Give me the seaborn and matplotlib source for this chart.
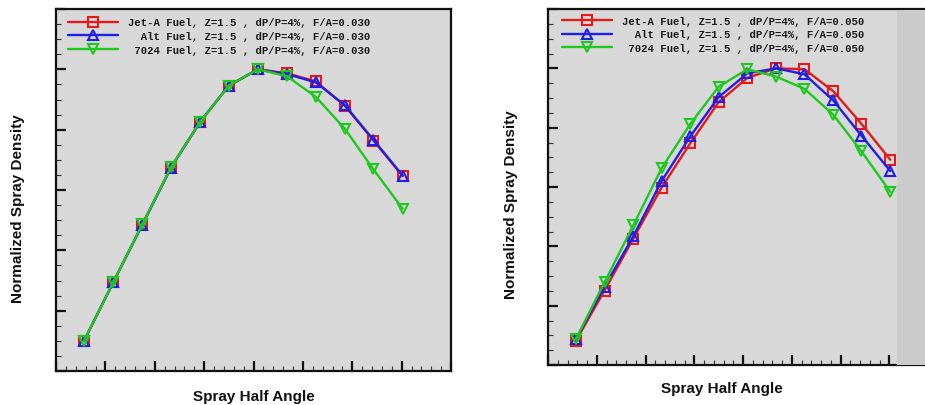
import numpy as np
import pandas as pd
import matplotlib
matplotlib.use("Agg")
import matplotlib.pyplot as plt
from matplotlib.lines import Line2D
from matplotlib.patches import Rectangle
from matplotlib.ticker import MultipleLocator, NullFormatter
import seaborn as sns

# ---------------- data ----------------
angle = [-4.3, 1.6, 7.5, 13.3, 19.2, 25.0, 30.9, 36.8, 42.6, 48.5, 54.3, 60.2]

# left panel, F/A = 0.030
jetA_030 = [0.101, 0.294, 0.487, 0.676, 0.826, 0.946, 1.000, 0.987, 0.960, 0.879, 0.764, 0.646]
alt_030 = [0.101, 0.294, 0.485, 0.674, 0.826, 0.946, 1.000, 0.984, 0.957, 0.881, 0.766, 0.648]
f7024_030 = [0.101, 0.294, 0.487, 0.676, 0.826, 0.946, 1.000, 0.977, 0.909, 0.803, 0.668, 0.538]

# right panel, F/A = 0.050
jetA_050 = [0.081, 0.251, 0.426, 0.598, 0.748, 0.886, 0.968, 1.000, 0.997, 0.923, 0.813, 0.692]
alt_050 = [0.087, 0.264, 0.434, 0.620, 0.771, 0.903, 0.983, 1.000, 0.980, 0.892, 0.773, 0.654]
f7024_050 = [0.087, 0.279, 0.471, 0.663, 0.813, 0.938, 0.997, 0.972, 0.931, 0.844, 0.720, 0.584]

labels_030 = ["Jet-A Fuel, Z=1.5 , dP/P=4%, F/A=0.030",
              "  Alt Fuel, Z=1.5 , dP/P=4%, F/A=0.030",
              " 7024 Fuel, Z=1.5 , dP/P=4%, F/A=0.030"]
labels_050 = ["Jet-A Fuel, Z=1.5 , dP/P=4%, F/A=0.050",
              "  Alt Fuel, Z=1.5 , dP/P=4%, F/A=0.050",
              " 7024 Fuel, Z=1.5 , dP/P=4%, F/A=0.050"]

x_label = "Spray Half Angle"
y_label = "Normalized Spray Density"

colors = ["#e3191c", "#1f1fe6", "#1fc81f"]
markers = ["s", "^", "v"]

# ---------------- figure ----------------
sns.set_style("ticks")
plt.rcParams["font.family"] = ["Liberation Sans", "DejaVu Sans"]

W, H = 925, 406
fig = plt.figure(figsize=(W / 100, H / 100), dpi=100)
fig.patch.set_facecolor("white")


def px_axes(x0, x1, y0, y1):
    return fig.add_axes([x0 / W, 1 - y1 / H, (x1 - x0) / W, (y1 - y0) / H])


ax1 = px_axes(56, 451, 10, 372)
ax2 = px_axes(548, 938, 10, 366)

panels = [
    (ax1, [jetA_030, alt_030, f7024_030], labels_030, (0.030, 0.977), (-0.05, -0.078, 0.45)),
    (ax2, [jetA_050, alt_050, f7024_050], labels_050, (0.036, 0.981), (-0.045, -0.077, 0.452)),
]

MS = 7.3
for ax, series, labels, leg_anchor, lab in panels:
    ax.set_facecolor("#d8d8d8")
    for ys, c, m, lbl in zip(series, colors, markers, labels):
        df = pd.DataFrame({"angle": angle, "density": ys})
        sns.lineplot(data=df, x="angle", y="density", ax=ax, color=c,
                     marker=m, markersize=MS, markerfacecolor="none",
                     markeredgecolor=c, markeredgewidth=1.5, linewidth=1.7,
                     sort=False, legend=False, zorder=3)
    ax.set_xlim(-10, 70)
    ax.set_ylim(0, 1.2)
    ax.xaxis.set_major_locator(MultipleLocator(10))
    ax.xaxis.set_minor_locator(MultipleLocator(2))
    ax.yaxis.set_major_locator(MultipleLocator(0.2))
    ax.yaxis.set_minor_locator(MultipleLocator(0.05))
    ax.xaxis.set_major_formatter(NullFormatter())
    ax.yaxis.set_major_formatter(NullFormatter())
    ax.tick_params(which="major", direction="in", length=7, width=1.6,
                   color="#111111", top=False, right=False)
    ax.tick_params(which="minor", direction="in", length=3.5, width=0.8,
                   color="#333333", top=False, right=False)
    for s in ax.spines.values():
        s.set_linewidth(1.6)
        s.set_color("#111111")
    ax.set_xlabel(x_label, fontsize=11, fontweight="bold", color="#111111")
    ax.set_ylabel(y_label, fontsize=11, fontweight="bold", color="#111111")
    ax.xaxis.set_label_coords(0.5 if ax is ax1 else 0.447, lab[0])
    ax.yaxis.set_label_coords(lab[1], lab[2])

    handles = [Line2D([], [], color=c, marker=m, markersize=MS,
                      markerfacecolor="none", markeredgecolor=c,
                      markeredgewidth=1.5, linewidth=1.7)
               for c, m in zip(colors, markers)]
    leg = ax.legend(handles, labels, loc="upper left", bbox_to_anchor=leg_anchor,
                    frameon=False, borderaxespad=0, borderpad=0,
                    handlelength=4.7, handletextpad=0.9, labelspacing=0.34,
                    numpoints=1,
                    prop={"family": ["Liberation Mono", "DejaVu Sans Mono"],
                          "weight": "bold", "size": 7.7})
    for t in leg.get_texts():
        t.set_color("#1a1a1a")

# darker pasted strip at the right edge of the right panel
fig.patches.append(Rectangle((897 / W, 1 - 366 / H), (925 - 897) / W, (366 - 11) / H,
                             transform=fig.transFigure, facecolor="#cbcbcb",
                             edgecolor="none", zorder=0.5))

fig.savefig("out.png", dpi=100)
